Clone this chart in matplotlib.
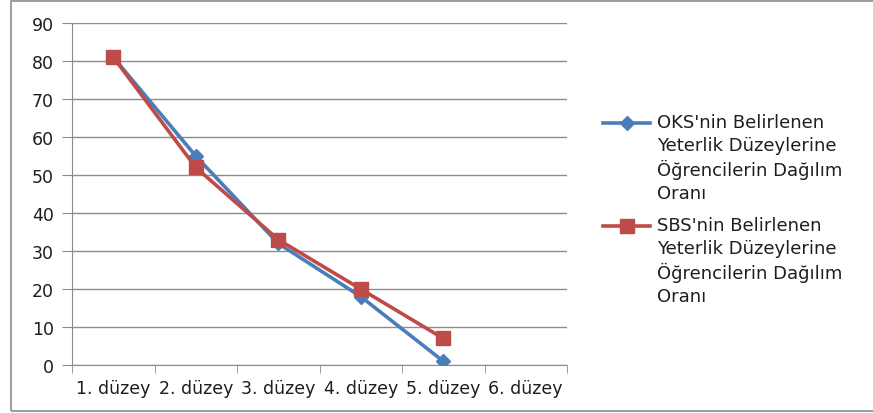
import matplotlib.pyplot as plt
from matplotlib.lines import Line2D
import numpy as np

plt.rcParams['font.family'] = ['DejaVu Sans']

levels = ["1. düzey", "2. düzey", "3. düzey", "4. düzey", "5. düzey", "6. düzey"]
oks = [81, 55, 32, 18, 1]
sbs = [81, 52, 33, 20, 7]
oks_label = "OKS'nin Belirlenen\nYeterlik Düzeylerine\nÖğrencilerin Dağılım\nOranı"
sbs_label = "SBS'nin Belirlenen\nYeterlik Düzeylerine\nÖğrencilerin Dağılım\nOranı"

blue = "#4A7EBB"
red = "#BE4B48"
grid = "#8C8C8C"
text_c = "#1E1E1E"

W, H = 873, 414
fig = plt.figure(figsize=(W / 100, H / 100), dpi=100)
ax = fig.add_axes([72 / W, 48 / H, 495 / W, 342 / H])

# chart frame around everything
fig.patches.append(plt.Rectangle((11 / W, 2 / H), 1.0, 410 / H, transform=fig.transFigure,
                                 fill=False, edgecolor=grid, linewidth=1.2))

x = np.arange(len(oks))
ax.plot(x, oks, color=blue, linewidth=2.6, marker="D", markersize=7, zorder=3)
ax.plot(x, sbs, color=red, linewidth=2.6, marker="s", markersize=10, zorder=4)

ax.set_xlim(-0.5, len(levels) - 0.5)
ax.set_ylim(0, 90)
ax.set_yticks(np.arange(0, 91, 10))
ax.set_xticks(np.arange(len(levels)))
ax.set_xticklabels(levels)
ax.set_xticks(np.arange(-0.5, len(levels), 1), minor=True)
ax.tick_params(axis="x", which="major", length=0, labelsize=12.5, pad=10, labelcolor=text_c)
ax.tick_params(axis="x", which="minor", length=6, color=grid, direction="out")
ax.tick_params(axis="y", length=7, color=grid, labelsize=12.5, pad=6, labelcolor=text_c)

ax.yaxis.grid(True, color=grid, linewidth=1)
ax.set_axisbelow(True)
for side in ["top", "right"]:
    ax.spines[side].set_visible(False)
ax.spines["left"].set_color(grid)
ax.spines["bottom"].set_color(grid)

# legend: handle next to the first line of each label
entries = [(oks_label, blue, "D", 7, 124), (sbs_label, red, "s", 10, 227)]
for label, color, mk, ms, ypix in entries:
    yf = 1 - ypix / H
    fig.add_artist(Line2D([603 / W, 650 / W], [yf, yf], transform=fig.transFigure,
                          color=color, linewidth=2.6))
    fig.add_artist(Line2D([626.5 / W], [yf], transform=fig.transFigure, color=color,
                          marker=mk, markersize=ms, linestyle="none"))
    fig.text(657 / W, 1 - (ypix - 10) / H, label, ha="left", va="top", fontsize=13,
             color=text_c, linespacing=1.33)

fig.savefig("out.png", dpi=100)
